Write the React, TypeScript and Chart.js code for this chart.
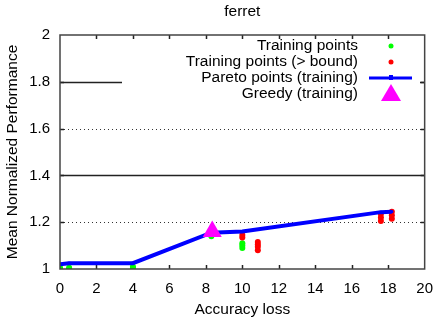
import React, { useEffect, useRef } from 'react';
import { Chart, registerables } from 'chart.js';
Chart.register(...registerables);

const TITLE = 'ferret';
const X_LABEL = 'Accuracy loss';
const Y_LABEL = 'Mean Normalized Performance';

const greenX = [0, 0, 0.5, 0.5, 4, 4, 8.3, 10, 10, 10];
const greenY = [1.0, 1.005, 1.0, 1.005, 1.005, 1.01, 1.14, 1.09, 1.1, 1.11];

const redX = [10, 10, 10.85, 10.85, 10.85, 10.85, 17.6, 17.6, 17.6, 18.2, 18.2, 18.2];
const redY = [1.135, 1.145, 1.08, 1.095, 1.105, 1.115, 1.205, 1.22, 1.235, 1.215, 1.23, 1.245];

const paretoX = [0, 0.5, 4, 8.3, 10, 17.6, 18.2];
const paretoY = [1.02, 1.025, 1.025, 1.155, 1.16, 1.243, 1.245];

const greedyX = [8.35];
const greedyY = [1.16];

const legendLabels = [
  'Training points',
  'Training points (> bound)',
  'Pareto points (training)',
  'Greedy (training)',
];

const solidGrid = [1.4, 1.8];
const dottedGrid = [1.2, 1.6];

const FONT = '"Liberation Sans", Arial, sans-serif';

const toPts = (xs: number[], ys: number[]) => xs.map((x, i) => ({ x, y: ys[i] }));

const framePlugin = {
  id: 'frame',
  beforeDatasetsDraw(chart: any) {
    const { ctx, chartArea: a, scales } = chart;
    const x = scales.x;
    const y = scales.y;
    ctx.save();
    ctx.strokeStyle = '#333';
    ctx.lineWidth = 1;
    ctx.setLineDash([1, 3]);
    dottedGrid.forEach((v) => {
      const py = Math.round(y.getPixelForValue(v)) + 0.5;
      ctx.beginPath();
      ctx.moveTo(a.left, py);
      ctx.lineTo(a.right, py);
      ctx.stroke();
    });
    ctx.setLineDash([]);
    ctx.lineWidth = 1.5;
    ctx.strokeStyle = '#222';
    solidGrid.forEach((v) => {
      const py = Math.round(y.getPixelForValue(v)) + 0.5;
      ctx.beginPath();
      ctx.moveTo(a.left, py);
      ctx.lineTo(a.right, py);
      ctx.stroke();
    });
    // legend background (key box hides grid)
    ctx.fillStyle = '#fff';
    ctx.fillRect(122, 37, 298, 66);
    // ticks inward
    ctx.strokeStyle = '#222';
    ctx.lineWidth = 1.5;
    x.ticks.forEach((t: any) => {
      if (t.value <= x.min || t.value >= x.max) return;
      const px = Math.round(x.getPixelForValue(t.value)) + 0.5;
      ctx.beginPath();
      ctx.moveTo(px, a.bottom);
      ctx.lineTo(px, a.bottom - 4);
      ctx.moveTo(px, a.top);
      ctx.lineTo(px, a.top + 4);
      ctx.stroke();
    });
    y.ticks.forEach((t: any) => {
      if (t.value <= y.min || t.value >= y.max) return;
      const py = Math.round(y.getPixelForValue(t.value)) + 0.5;
      ctx.beginPath();
      ctx.moveTo(a.left, py);
      ctx.lineTo(a.left + 4, py);
      ctx.moveTo(a.right, py);
      ctx.lineTo(a.right - 4, py);
      ctx.stroke();
    });
    ctx.restore();
  },
  afterDatasetsDraw(chart: any) {
    const { ctx, chartArea: a } = chart;
    ctx.save();
    // frame
    ctx.strokeStyle = '#444';
    ctx.lineWidth = 1.5;
    ctx.strokeRect(a.left, a.top, a.right - a.left, a.bottom - a.top);
    // legend
    ctx.font = `15.5px ${FONT}`;
    ctx.fillStyle = '#000';
    ctx.textAlign = 'right';
    ctx.textBaseline = 'middle';
    const rows = [46, 62, 78, 94];
    const sx = 391;
    legendLabels.forEach((l, i) => ctx.fillText(l, 358, rows[i]));
    ctx.fillStyle = '#00ff00';
    ctx.beginPath();
    ctx.arc(sx, rows[0], 2.5, 0, Math.PI * 2);
    ctx.fill();
    ctx.fillStyle = '#ff0000';
    ctx.beginPath();
    ctx.arc(sx, rows[1], 2.5, 0, Math.PI * 2);
    ctx.fill();
    ctx.strokeStyle = '#0000ff';
    ctx.lineWidth = 3;
    ctx.beginPath();
    ctx.moveTo(369, rows[2]);
    ctx.lineTo(412, rows[2]);
    ctx.stroke();
    ctx.fillStyle = '#0000ff';
    ctx.fillRect(sx - 2, rows[2] - 3, 4, 5);
    ctx.fillStyle = '#ff00ff';
    ctx.beginPath();
    ctx.moveTo(sx, rows[3] - 10);
    ctx.lineTo(sx + 10, rows[3] + 7);
    ctx.lineTo(sx - 10, rows[3] + 7);
    ctx.closePath();
    ctx.fill();
    // titles
    ctx.fillStyle = '#000';
    ctx.textAlign = 'center';
    ctx.font = `15.5px ${FONT}`;
    const cx = (a.left + a.right) / 2;
    ctx.fillText(TITLE, cx, 12);
    ctx.fillText(X_LABEL, cx, 310);
    ctx.translate(13, (a.top + a.bottom) / 2);
    ctx.rotate(-Math.PI / 2);
    ctx.fillText(Y_LABEL, 0, 0);
    ctx.restore();
  },
};

export default function App() {
  const ref = useRef<HTMLCanvasElement>(null);
  useEffect(() => {
    if (!ref.current) return;
    const font = { family: FONT, size: 15 };
    const chart = new Chart(ref.current, {
      type: 'scatter',
      data: {
        datasets: [
          {
            label: legendLabels[3],
            data: toPts(greedyX, greedyY),
            pointStyle: 'triangle',
            pointRadius: 11,
            backgroundColor: '#ff00ff',
            borderColor: '#ff00ff',
            borderWidth: 0,
            order: 1,
          },
          {
            label: legendLabels[2],
            data: toPts(paretoX, paretoY),
            showLine: true,
            borderColor: '#0000ff',
            backgroundColor: '#0000ff',
            borderWidth: 4,
            pointStyle: 'rect',
            pointRadius: 2,
            pointBorderWidth: 0,
            order: 2,
          } as any,
          {
            label: legendLabels[1],
            data: toPts(redX, redY),
            backgroundColor: '#ff0000',
            borderColor: '#ff0000',
            pointRadius: 3,
            borderWidth: 0,
            order: 3,
          },
          {
            label: legendLabels[0],
            data: toPts(greenX, greenY),
            backgroundColor: '#00ff00',
            borderColor: '#00ff00',
            pointRadius: 3,
            borderWidth: 0,
            order: 4,
          },
        ],
      },
      options: {
        animation: false,
        responsive: false,
        maintainAspectRatio: false,
        layout: { padding: { top: 35, right: 12, left: 0, bottom: 0 } },
        plugins: {
          legend: { display: false },
          title: { display: false },
          tooltip: { enabled: false },
        },
        scales: {
          x: {
            type: 'linear',
            min: 0,
            max: 20,
            ticks: { stepSize: 2, padding: 11, font, color: '#000', maxRotation: 0 },
            grid: { display: false, drawTicks: false },
            border: { display: false },
            afterFit(s: any) {
              s.height = 54;
            },
          },
          y: {
            type: 'linear',
            min: 1,
            max: 2,
            ticks: {
              stepSize: 0.2,
              padding: 10,
              font,
              color: '#000',
              callback: (v: any) => String(Number(Number(v).toFixed(1))),
            },
            grid: { display: false, drawTicks: false },
            border: { display: false },
            afterFit(s: any) {
              s.width = 60;
            },
          },
        },
      },
      plugins: [framePlugin],
    } as any);
    return () => chart.destroy();
  }, []);
  return (
    <div style={{ position: 'absolute', left: 0, top: 0, width: 444, height: 323, background: '#fff' }}>
      <canvas ref={ref} width={444} height={323} style={{ display: 'block' }} />
    </div>
  );
}
